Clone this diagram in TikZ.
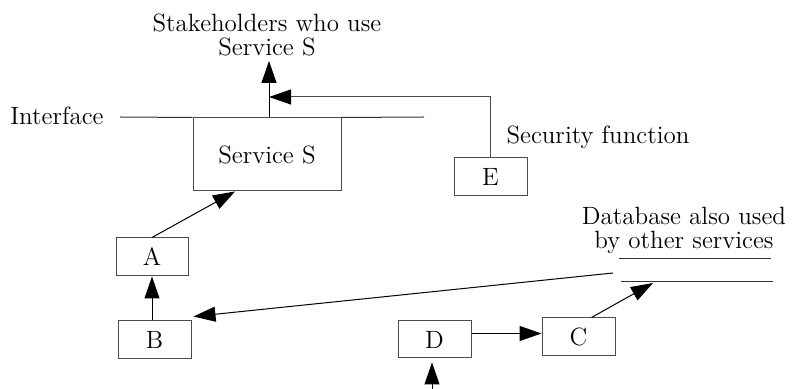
\documentclass[tikz,border=0pt]{standalone}
\usepackage{tikz}
\usetikzlibrary{positioning, arrows.meta}

\begin{document}
\begin{tikzpicture}[x=0.5pt, y=-0.5pt, font=\fontsize{12.5}{12}\selectfont,
    box/.style={draw=black!70, line width=0.5pt, inner sep=0pt},
    arr/.style={-{Triangle[length=11pt, width=7.5pt, color=black]}, line width=0.5pt},
    plain/.style={draw=black!80, line width=0.5pt}]
    \useasboundingbox (0,0) rectangle (794,389);
    % boxes
    \node[box, minimum width=74pt, minimum height=36.5pt] (svc) at (267,154.5) {Service S};
    \node[box, minimum width=36pt, minimum height=19pt] (A) at (152,257) {A};
    \node[box, minimum width=36.5pt, minimum height=19pt] (B) at (154.5,340) {B};
    \node[box, minimum width=36.5pt, minimum height=19pt] (E) at (490.5,177) {E};
    \node[box, minimum width=36.5pt, minimum height=18.5pt] (D) at (434.5,339.5) {D};
    \node[box, minimum width=36.5pt, minimum height=19pt] (C) at (578.5,337) {C};
    % labels
    \node[align=center] (stake) at (267,35) {Stakeholders who use\\Service S};
    \node (iface) at (57,116) {Interface};
    \node (secf) at (598,137) {Security function};
    \node[align=center] (dblab) at (684,230) {Database also used\\by other services};
    % free ends
    \coordinate (up) at (269,61);
    \coordinate (join) at (269,97);
    \coordinate (ifl) at (120,117);
    \coordinate (ifr) at (424,117);
    \coordinate (dbout) at (613,273);
    \coordinate (dbin) at (653,283);
    \coordinate (din) at (432,389);
    % interface and database lines
    \draw[plain] (ifl) -- (svc.north west);
    \draw[plain] (svc.north east) -- (ifr);
    \draw[plain] (619,259) -- (771,259);
    \draw[plain] (621,282) -- (773,282);
    % connectors
    \draw[arr] (up |- svc.north) -- (up);
    \draw[arr, draw=black!70] (E.north) |- (join);
    \draw[arr] (A.north) -- ([xshift=-16pt]svc.south);
    \draw[arr] (B.north -| A.south) -- (A.south);
    \draw[arr] (dbout) -- ([shift={(1pt,2pt)}]B.north east);
    \draw[arr] ([yshift=3pt]D.east) -- ([yshift=3pt]D.east -| C.west);
    \draw[arr] ([xshift=6.5pt]C.north) -- (dbin);
    \draw[arr, shorten >=2pt] (din) -- (din |- D.south);
\end{tikzpicture}
\end{document}
